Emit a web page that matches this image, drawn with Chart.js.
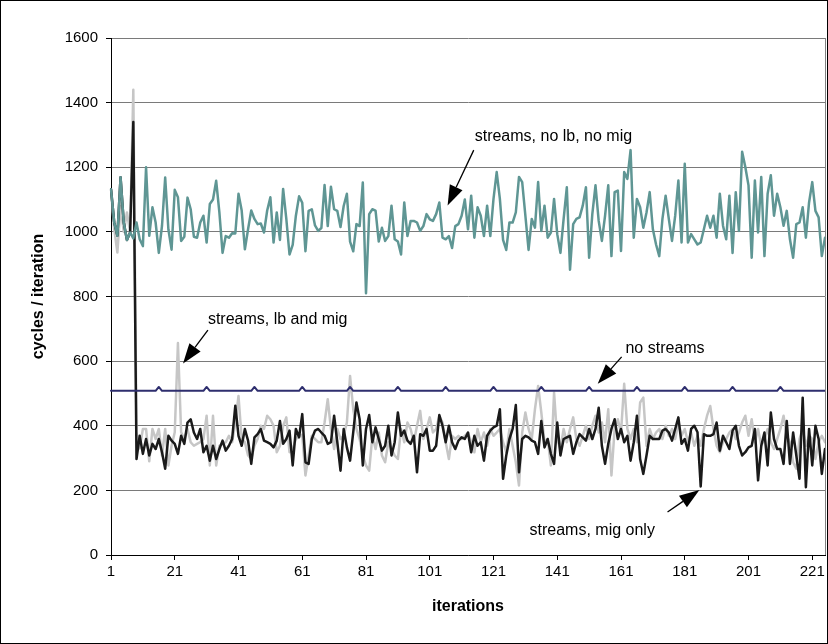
<!DOCTYPE html>
<html><head><meta charset="utf-8">
<script src="https://cdn.jsdelivr.net/npm/chart.js@4.4.0/dist/chart.umd.min.js"></script>
<style>html,body{margin:0;padding:0;background:#fff}canvas{display:block}</style>
</head><body>
<canvas id="c" width="828" height="644"></canvas>
<script>
// ---------- DATA ----------
const iterations = [];
for (let i = 1; i <= 225; i++) iterations.push(String(i));
const xTickEvery = 20;
const yTicks = [0, 200, 400, 600, 800, 1000, 1200, 1400, 1600];

const streamsNoLbNoMig = [
1132,1030,988,1169,1029,975,998,980,1029,977,956,1200,988,1076,1029,935,1019,1168,1008,945,
1130,1107,972,985,1106,1070,985,982,1029,1050,967,1086,1100,1158,1060,935,
987,982,996,995,1118,1066,946,1008,1066,1040,1024,1026,998,1066,1107,967,1060,975,1133,1040,930,960,1050,1110,1090,940,1065,1070,1020,1003,1012,1145,1018,1140,1070,1065,1015,1080,
1118,970,940,1024,1018,1153,810,1055,1070,1066,970,1013,972,987,1081,977,970,930,1091,987,1034,1034,1029,1003,1018,1055,1039,1034,1055,1091,982,977,987,950,1018,1024,1050,
1100,1008,1112,982,1076,1050,987,1081,987,1102,1185,1102,975,944,1029,1029,1060,1170,1154,1050,944,1040,1013,1154,1003,1081,982,998,1102,993,935,1040,1138,883,1024,1040,
1045,1081,1138,920,1055,1144,1034,972,1050,1144,925,1123,1128,941,1185,1164,1253,982,1102,1076,1013,1060,1123,1008,961,925,1040,1112,1040,972,1050,1159,967,1211,967,993,977,961,
967,1008,1050,1013,1050,982,1118,1019,977,1112,935,1123,1003,1248,1201,1144,920,1159,998,1170,925,1118,1175,1050,1118,1076,1019,1065,977,920,1024,1029,1076,982,1091,1154,1065,1045,925,982
];

const noStreams = [];
const noStreamsBase = 508, noStreamsBump = 520;
const noStreamsBumpAt = [16,31,46,61,76,91,106,121,136,151,166,181,196,211];
for (let i = 1; i <= 225; i++) noStreams.push(noStreamsBumpAt.includes(i) ? noStreamsBump : noStreamsBase);

const streamsMigOnly = [
1132,1030,988,1169,1029,975,998,1340,297,
369,313,359,308,344,328,359,318,267,369,354,344,313,369,344,410,420,379,359,390,318,338,292,338,297,328,354,
323,338,359,462,369,338,390,354,282,364,374,390,354,349,344,333,354,415,344,359,385,277,390,364,436,287,282,359,385,390,379,369,344,349,431,349,261,390,
333,292,380,472,420,277,390,433,349,395,359,323,338,400,308,349,441,369,385,354,344,369,256,374,369,390,323,323,338,433,400,349,400,349,328,354,364,
359,379,318,369,338,349,292,369,385,395,400,451,236,308,359,390,464,256,359,369,364,354,349,313,415,333,359,313,282,410,308,359,364,369,313,349,
374,364,354,390,359,390,456,338,282,344,390,420,359,390,349,369,292,349,431,297,251,308,369,359,359,359,385,390,379,354,390,426,344,359,323,390,400,380,212,
374,369,369,374,410,323,369,349,328,385,400,338,308,318,333,338,390,231,338,379,277,441,359,328,328,282,415,282,379,308,236,487,210,390,277,400,359,251,328
];

const streamsLbAndMig = [
1130,1010,936,1080,1000,1060,1000,1440,
380,330,390,390,290,390,359,390,308,390,277,338,380,656,380,359,390,349,338,344,349,359,431,277,431,277,338,344,
349,369,349,410,492,359,349,308,297,338,359,400,390,431,420,400,318,338,400,426,318,328,359,369,372,246,308,369,359,349,349,410,482,390,328,390,359,369,
410,554,451,390,359,308,277,261,369,328,379,308,287,349,328,308,297,390,349,410,390,349,400,446,359,390,426,379,390,431,410,349,297,369,359,369,359,
369,379,349,318,390,349,379,338,390,369,379,390,349,318,390,338,287,215,379,441,390,359,451,523,441,349,359,277,503,359,328,390,349,390,426,359,
338,369,400,359,400,431,379,410,349,451,246,390,420,379,530,390,359,390,349,472,487,338,390,359,379,390,359,400,369,390,359,410,369,390,349,379,338,369,
338,390,431,461,390,338,318,349,359,379,390,359,379,410,431,369,420,349,390,338,359,390,349,328,359,390,431,369,349,287,267,359,390,338,369,359,297,349,369,349
];

// annotations: [text, textIndex, textValue, arrowFromIndex, arrowFromValue, arrowToIndex, arrowToValue]
const annotations = [
  ["streams, no lb, no mig", 114.1, 1294, 113.8, 1253, 105.6, 1082],
  ["streams, lb and mig",     30.4,  730,  30.4,  696,  22.6,  593],
  ["no streams",             161.4,  638, 160.2,  613, 152.7,  530],
  ["streams, mig only",      131.3,   74, 174.6,  133, 184.6,  201]
];

// ---------- CHART ----------
const FONT = '"Liberation Sans", Arial, sans-serif';

const annotationPlugin = {
  id: 'annot',
  afterDatasetsDraw(chart) {
    const {ctx, chartArea, scales: {x, y}} = chart;
    ctx.save();
    ctx.strokeStyle = '#808080';
    ctx.lineWidth = 1;
    ctx.beginPath();
    ctx.moveTo(Math.round(chartArea.right) + 0.5, chartArea.top);
    ctx.lineTo(Math.round(chartArea.right) + 0.5, chartArea.bottom);
    ctx.stroke();
    ctx.font = '16px ' + FONT;
    ctx.fillStyle = '#000';
    ctx.textBaseline = 'middle';
    ctx.textAlign = 'left';
    for (const a of annotations) {
      const tx = x.getPixelForValue(a[1]), ty = y.getPixelForValue(a[2]);
      ctx.fillText(a[0], tx, ty);
      const x0 = x.getPixelForValue(a[3]), y0 = y.getPixelForValue(a[4]);
      const x1 = x.getPixelForValue(a[5]), y1 = y.getPixelForValue(a[6]);
      const ang = Math.atan2(y1 - y0, x1 - x0);
      const hl = 20, hw = 7;
      const bx = x1 - hl * Math.cos(ang), by = y1 - hl * Math.sin(ang);
      ctx.strokeStyle = '#000';
      ctx.lineWidth = 1.3;
      ctx.beginPath(); ctx.moveTo(x0, y0); ctx.lineTo(bx, by); ctx.stroke();
      ctx.beginPath();
      ctx.moveTo(x1, y1);
      ctx.lineTo(bx + hw * Math.sin(ang), by - hw * Math.cos(ang));
      ctx.lineTo(bx - hw * Math.sin(ang), by + hw * Math.cos(ang));
      ctx.closePath(); ctx.fill();
    }
    ctx.restore();
  },
  afterDraw(chart) {
    const ctx = chart.ctx;
    ctx.save();
    ctx.strokeStyle = '#000';
    ctx.lineWidth = 1;
    ctx.strokeRect(0.5, 0.5, chart.width - 1, chart.height - 1);
    ctx.restore();
  }
};

new Chart(document.getElementById('c'), {
  type: 'line',
  data: {
    labels: iterations,
    datasets: [
      {label: 'streams, no lb, no mig', data: streamsNoLbNoMig, borderColor: '#5f9694', borderWidth: 2.5},
      {label: 'no streams', data: noStreams, borderColor: '#2e2e6e', borderWidth: 2},
      {label: 'streams, mig only', data: streamsMigOnly, borderColor: '#1a1a1a', borderWidth: 2.5},
      {label: 'streams, lb and mig', data: streamsLbAndMig, borderColor: '#c6c6c6', borderWidth: 2.5}
    ]
  },
  options: {
    responsive: false,
    animation: false,
    devicePixelRatio: 1,
    layout: {padding: {left: 0, right: 3, top: 38, bottom: 0}},
    elements: {point: {radius: 0}, line: {tension: 0, borderJoinStyle: 'round', borderCapStyle: 'round'}},
    plugins: {legend: {display: false}, tooltip: {enabled: false}},
    scales: {
      x: {
        type: 'category',
        offset: false,
        afterFit(s) { s.height = 89; },
        border: {color: '#000', width: 1},
        grid: {
          drawOnChartArea: false, drawTicks: true, tickLength: 5,
          tickColor: c => (c.index % xTickEvery === 0 ? '#000' : 'rgba(0,0,0,0)')
        },
        ticks: {
          autoSkip: false, maxRotation: 0, padding: 3,
          color: '#000', font: {family: FONT, size: 15},
          callback: function(v, i) { return i % xTickEvery === 0 ? this.getLabelForValue(v) : ''; }
        },
        title: {display: true, text: 'iterations', color: '#000', font: {family: FONT, size: 16, weight: 'bold'}, padding: {top: 0, bottom: 28}}
      },
      y: {
        min: yTicks[0], max: yTicks[yTicks.length - 1],
        afterFit(s) { s.width = 111; },
        afterBuildTicks(s) { s.ticks = yTicks.map(v => ({value: v})); },
        border: {color: '#000', width: 1},
        grid: {color: '#7a7a7a', lineWidth: 1, tickLength: 5, tickColor: '#000'},
        ticks: {color: '#000', padding: 8, font: {family: FONT, size: 15}, callback: v => String(v)},
        title: {display: true, text: 'cycles / iteration', color: '#000', font: {family: FONT, size: 16, weight: 'bold'}, padding: {top: 29, bottom: 0}}
      }
    }
  },
  plugins: [annotationPlugin]
});
</script>
</body></html>
